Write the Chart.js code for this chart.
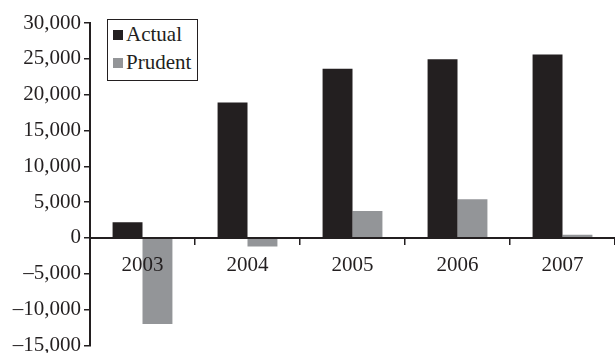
<!DOCTYPE html>
<html>
<head>
<meta charset="utf-8">
<script src="https://cdn.jsdelivr.net/npm/chart.js@4/dist/chart.umd.min.js"></script>
<style>
  html, body { margin: 0; padding: 0; background: #fff; overflow: hidden; }
  #wrap { position: relative; width: 615px; height: 361px; }
  #legend {
    position: absolute; left: 107px; top: 19px; width: 89px; height: 60px;
    border: 1px solid #231f20; background: #fff;
    font-family: "Liberation Serif", serif; font-size: 21px; color: #231f20;
  }
  #legend div { position: absolute; left: 5px; white-space: nowrap; line-height: 22px; }
  #legend span.sw { display: inline-block; width: 10px; height: 10px; margin-right: 3px; vertical-align: 1px; }
</style>
</head>
<body>
<div id="wrap">
  <canvas id="barChart" width="615" height="361"></canvas>
  <div id="legend"></div>
</div>
<script>
// data
const years = ['2003', '2004', '2005', '2006', '2007'];
const actual = [2200, 18900, 23600, 24950, 25600];
const prudent = [-12000, -1200, 3750, 5400, 450];
const seriesNames = ['Actual', 'Prudent'];
const seriesColors = ['#231f20', '#939598'];

const ink = '#231f20';
const serif = '"Liberation Serif", "DejaVu Serif", serif';

let ctx = document.getElementById('barChart').getContext('2d');
let chart = new Chart(ctx, {
    type: 'bar',
    data: {
        labels: years,
        datasets: [
            { label: seriesNames[0], data: actual, backgroundColor: seriesColors[0] },
            { label: seriesNames[1], data: prudent, backgroundColor: seriesColors[1] }
        ]
    },
    options: {
        responsive: false,
        animation: false,
        layout: { padding: { top: 23, right: 0, bottom: 0, left: 0 } },
        datasets: {
            bar: { categoryPercentage: 0.57, barPercentage: 1.0, borderWidth: 0 }
        },
        plugins: {
            legend: { display: false },
            tooltip: { enabled: false }
        },
        scales: {
            x: {
                position: { y: 0 },
                grid: { drawOnChartArea: false, drawTicks: true, tickLength: 6, color: ink, lineWidth: 1.5, offset: true },
                border: { display: true, color: ink, width: 2, z: 1 },
                // labels sit on top of the bars, like the original
                ticks: { z: 1, color: ink, font: { family: serif, size: 21 }, padding: 9, maxRotation: 0 }
            },
            y: {
                min: -15000,
                max: 30000,
                afterFit: (scale) => { scale.width = 90; },
                grid: { drawOnChartArea: false, drawTicks: true, tickLength: 6, color: ink, lineWidth: 1.5 },
                border: { display: true, color: ink, width: 2 },
                ticks: {
                    stepSize: 5000,
                    color: ink,
                    padding: 3,
                    font: { family: serif, size: 21 },
                    callback: (v) => v < 0 ? '\u2013' + Math.abs(v).toLocaleString('en-US') : v.toLocaleString('en-US')
                }
            }
        }
    }
});

// legend box inside the plot, built from the series arrays
const legendEl = document.getElementById('legend');
seriesNames.forEach((name, i) => {
    let row = document.createElement('div');
    row.style.top = (3 + i * 28) + 'px';
    row.innerHTML = '<span class="sw" style="background:' + seriesColors[i] + '"></span>' + name;
    legendEl.appendChild(row);
});
</script>
</body>
</html>
